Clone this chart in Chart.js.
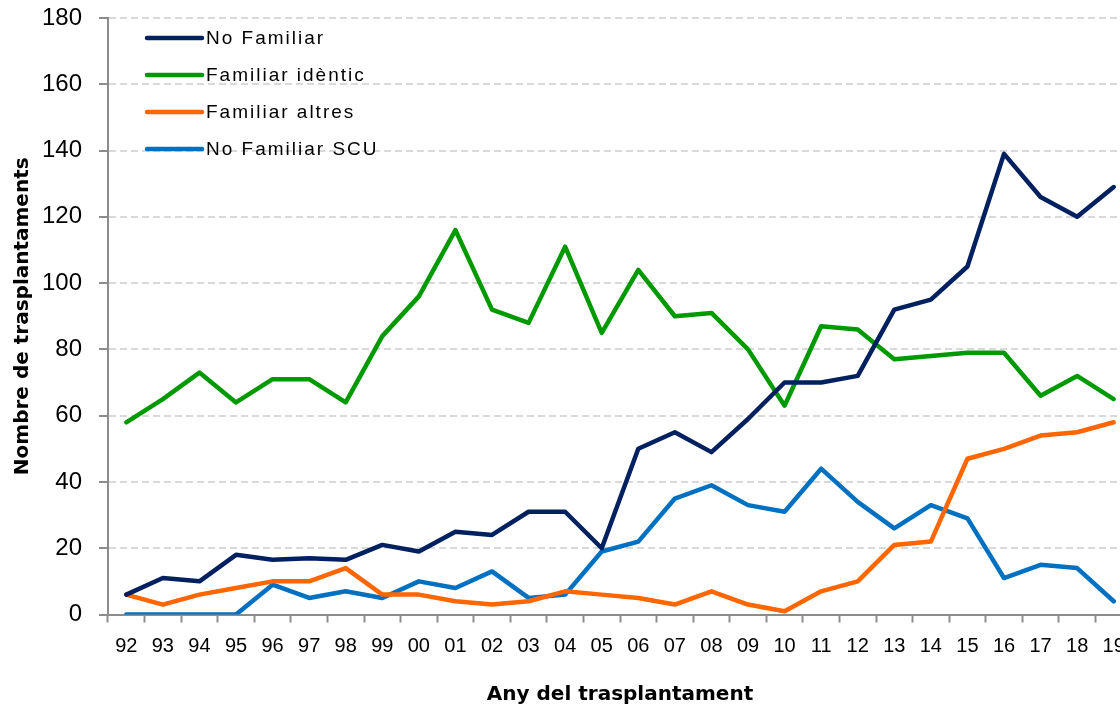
<!DOCTYPE html>
<html>
<head>
<meta charset="utf-8">
<script src="https://cdn.jsdelivr.net/npm/chart.js@4.4.0/dist/chart.umd.min.js"></script>
<style>
  html, body { margin: 0; padding: 0; background: #fff; overflow: hidden; }
  #wrap { width: 1134px; height: 708px; }
</style>
</head>
<body>
<div id="wrap"><canvas id="grafic"></canvas></div>
<script>
const anys = ["92","93","94","95","96","97","98","99","00","01","02","03","04","05","06","07","08","09","10","11","12","13","14","15","16","17","18","19"];

const noFamiliar      = [6, 11, 10, 18, 16.5, 17, 16.5, 21, 19, 25, 24, 31, 31, 20, 50, 55, 49, 59, 70, 70, 72, 92, 95, 105, 139, 126, 120, 129];
const familiarIdentic = [58, 65, 73, 64, 71, 71, 64, 84, 96, 116, 92, 88, 111, 85, 104, 90, 91, 80, 63, 87, 86, 77, 78, 79, 79, 66, 72, 65];
const familiarAltres  = [6, 3, 6, 8, 10, 10, 14, 6, 6, 4, 3, 4, 7, 6, 5, 3, 7, 3, 1, 7, 10, 21, 22, 47, 50, 54, 55, 58];
const noFamiliarSCU   = [0, 0, 0, 0, 9, 5, 7, 5, 10, 8, 13, 5, 6, 19, 22, 35, 39, 33, 31, 44, 34, 26, 33, 29, 11, 15, 14, 4];

const nomsSeries = ["No Familiar", "Familiar idèntic", "Familiar altres", "No Familiar SCU"];
const colors = ["#002060", "#009900", "#FF6600", "#0070C0"];

const FONT = "'Liberation Sans', Arial, sans-serif";
const FONT_TITOL = "'DejaVu Sans', sans-serif";

function serie(i, data) {
    return {
        label: nomsSeries[i],
        data: data,
        borderColor: colors[i],
        backgroundColor: colors[i],
        borderWidth: 4.5,
        pointRadius: 0,
        tension: 0,
        borderCapStyle: 'round',
        borderJoinStyle: 'round'
    };
}

// llegenda dins l'area del grafic, en columna
const llegenda = {
    id: 'llegenda',
    afterDraw(chart) {
        const ctx = chart.ctx;
        const x0 = chart.chartArea.left + 39;
        let y = chart.chartArea.top + 20;
        ctx.save();
        ctx.font = "19px " + FONT;
        ctx.letterSpacing = "2px";
        ctx.textBaseline = 'middle';
        chart.data.datasets.forEach(ds => {
            ctx.strokeStyle = ds.borderColor;
            ctx.lineWidth = 4.5;
            ctx.lineCap = 'round';
            ctx.beginPath();
            ctx.moveTo(x0, y);
            ctx.lineTo(x0 + 55, y);
            ctx.stroke();
            ctx.fillStyle = '#000';
            ctx.fillText(ds.label, x0 + 59, y + 1);
            y += 37;
        });
        ctx.restore();
    }
};

new Chart(document.getElementById('grafic'), {
    type: 'line',
    data: {
        labels: anys,
        datasets: [
            serie(0, noFamiliar),
            serie(1, familiarIdentic),
            serie(2, familiarAltres),
            serie(3, noFamiliarSCU)
        ]
    },
    options: {
        responsive: true,
        maintainAspectRatio: false,
        animation: false,
        layout: { padding: { top: 18, right: 2, left: 0, bottom: 0 } },
        plugins: {
            legend: { display: false },
            tooltip: { enabled: false }
        },
        scales: {
            x: {
                offset: true,
                afterFit: s => { s.height = 93.5; s.paddingLeft = 0; s.paddingRight = 0; },
                grid: {
                    offset: true,
                    drawOnChartArea: false,
                    drawTicks: true,
                    tickLength: 8,
                    tickWidth: 2,
                    color: '#8c8c8c'
                },
                border: { color: '#8c8c8c', width: 2 },
                ticks: {
                    color: '#000',
                    font: { family: FONT, size: 20 },
                    padding: 12,
                    maxRotation: 0,
                    autoSkip: false
                },
                title: {
                    display: true,
                    text: 'Any del trasplantament',
                    color: '#000',
                    font: { family: FONT_TITOL, size: 20, weight: 'bold' },
                    padding: { top: 0, bottom: 1 }
                }
            },
            y: {
                min: 0,
                max: 180,
                afterFit: s => { s.width = 108; s.paddingTop = 0; s.paddingBottom = 0; },
                ticks: {
                    stepSize: 20,
                    color: '#000',
                    font: { family: FONT, size: 24 },
                    padding: 17
                },
                grid: {
                    color: '#d9d9d9',
                    lineWidth: 2,
                    tickColor: '#8c8c8c',
                    tickWidth: 2,
                    tickLength: 9,
                    drawTicks: true
                },
                border: { color: '#8c8c8c', width: 2, dash: [7, 4] },
                title: {
                    display: true,
                    text: 'Nombre de trasplantaments',
                    color: '#000',
                    font: { family: FONT_TITOL, size: 20, weight: 'bold' },
                    padding: { top: 11, bottom: 0 }
                }
            }
        }
    },
    plugins: [llegenda]
});
</script>
</body>
</html>
